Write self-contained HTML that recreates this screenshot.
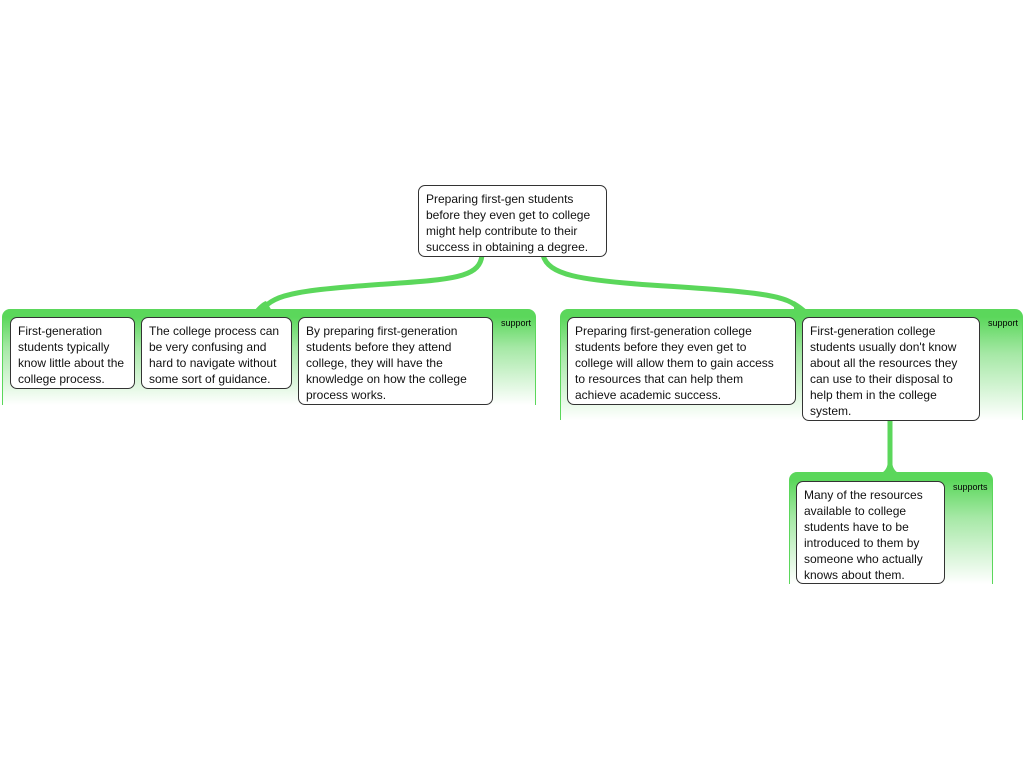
<!DOCTYPE html>
<html><head><style>
body{margin:0;width:1024px;height:768px;background:#fff;position:relative;overflow:hidden;font-family:"Liberation Sans",sans-serif}
.g{position:absolute;border-radius:8px 8px 0 0;background:linear-gradient(#5bd75b 0px,#5bd75b 8px,#a5e8a5 40%,#fff 100%);border-left:1px solid #5bd75b;border-right:1px solid #5bd75b;box-sizing:border-box}
.lbl{position:absolute;font-size:9px;color:#000}
.b{position:absolute;background:#fff;border:1px solid #333;border-radius:7px;box-sizing:border-box;font-size:12px;line-height:16px;color:#111;padding:5px 6px 0 7px;white-space:nowrap}
</style></head><body>
<svg width="1024" height="768" style="position:absolute;left:0;top:0">
<g fill="none" stroke="#5bd75b" stroke-width="5">
<path d="M482,255 C480,275 460,279 400,283 C300,290 275,293 262,310"/>
<path d="M543,255 C548,275 580,280 650,285 C760,292 790,295 800,310"/>
<path d="M890,418 L890,474"/>
</g>
<path d="M880,474 C888,470 888,464 888,456 L892,456 C892,464 892,470 900,474Z" fill="#5bd75b"/>
<path d="M254,311 C260,304 263,302 266,301 L272,311Z" fill="#5bd75b"/>
<path d="M794,301 C798,303 802,306 808,311 L794,311Z" fill="#5bd75b"/>
</svg>
<div class="g" style="left:2px;top:309px;width:534px;height:96px"></div>
<div class="lbl" style="left:501px;top:318px">support</div>
<div class="g" style="left:560px;top:309px;width:463px;height:111px"></div>
<div class="lbl" style="left:988px;top:318px">support</div>
<div class="g" style="left:789px;top:472px;width:204px;height:112px"></div>
<div class="lbl" style="left:953px;top:482px">supports</div>

<div class="b" style="left:418px;top:185px;width:189px;height:72px">Preparing first-gen students<br>before they even get to college<br>might help contribute to their<br>success in obtaining a degree.</div>
<div class="b" style="left:10px;top:317px;width:125px;height:72px">First-generation<br>students typically<br>know little about the<br>college process.</div>
<div class="b" style="left:141px;top:317px;width:151px;height:72px">The college process can<br>be very confusing and<br>hard to navigate without<br>some sort of guidance.</div>
<div class="b" style="left:298px;top:317px;width:195px;height:88px">By preparing first-generation<br>students before they attend<br>college, they will have the<br>knowledge on how the college<br>process works.</div>
<div class="b" style="left:567px;top:317px;width:229px;height:88px">Preparing first-generation college<br>students before they even get to<br>college will allow them to gain access<br>to resources that can help them<br>achieve academic success.</div>
<div class="b" style="left:802px;top:317px;width:178px;height:104px">First-generation college<br>students usually don't know<br>about all the resources they<br>can use to their disposal to<br>help them in the college<br>system.</div>
<div class="b" style="left:796px;top:481px;width:149px;height:103px">Many of the resources<br>available to college<br>students have to be<br>introduced to them by<br>someone who actually<br>knows about them.</div>
</body></html>
